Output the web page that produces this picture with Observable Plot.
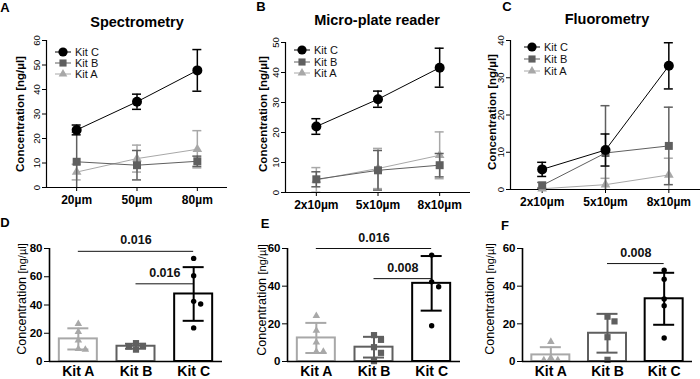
<!DOCTYPE html>
<html><head><meta charset="utf-8">
<script src="https://cdn.jsdelivr.net/npm/d3@7"></script>
<script src="https://cdn.jsdelivr.net/npm/@observablehq/plot@0.6"></script>
<style>
body{margin:0;background:#fff;font-family:"Liberation Sans",Arial,Helvetica,sans-serif;color:#000;}
#fig{position:relative;width:700px;height:379px;overflow:hidden;background:#fff;}
.abs{position:absolute;white-space:nowrap;}
.ctr{transform:translate(-50%,-50%);}
.letter{font-weight:bold;font-size:13px;}
.title{font-weight:bold;font-size:14.5px;}
.rot{transform:translate(-50%,-50%) rotate(-90deg);}
.leg{font-size:11px;line-height:12px;height:12px;color:#111;}
</style></head><body><div id="fig"></div>
<script>
const FONT = '"Liberation Sans", Arial, Helvetica, sans-serif';

// ---------- categories ----------
const kits = ["Kit A", "Kit B", "Kit C"];
const specLabels = ["20µm", "50µm", "80µm"];
const plateLabels = ["2x10µm", "5x10µm", "8x10µm"];
const fluoLabels = ["2x10µm", "5x10µm", "8x10µm"];

// ---------- A: Spectrometry (mean, SD) ----------
const specA = [6.3, 11.8, 15.6];
const specAsd = [3.2, 5.5, 7.6];
const specB = [10.5, 9.1, 10.7];
const specBsd = [12.0, 6.0, 2.1];
const specC = [23.5, 35.0, 47.8];
const specCsd = [2.0, 3.1, 8.5];

// ---------- B: Micro-plate reader ----------
const plateA = [4.2, 8.0, 12.4];
const plateAsd = [4.1, 6.7, 7.8];
const plateB = [4.4, 7.4, 9.1];
const plateBsd = [2.5, 6.6, 3.9];
const plateC = [22.0, 31.1, 41.6];
const plateCsd = [2.6, 2.7, 6.5];

// ---------- C: Fluorometry ----------
const fluoA = [0.2, 1.3, 3.9];
const fluoAsd = [0.3, 1.7, 4.5];
const fluoB = [1.1, 9.8, 11.7];
const fluoBsd = [0.8, 12.7, 10.4];
const fluoC = [5.4, 10.6, 33.2];
const fluoCsd = [1.9, 4.3, 6.2];

// ---------- D ----------
const dMean = [16.0, 10.8, 47.8];
const dSd = [7.5, 1.75, 19.0];
const dPtsA = [26.6, 21.0, 15.0, 9.0, 8.5];
const dPtsB = [13.0, 11.0, 10.6, 8.4];
const dPtsC = [73.0, 60.7, 42.6, 40.7, 23.8];
const dSigFrom = ["Kit A", "Kit B"];
const dSigTo = ["Kit C", "Kit C"];
const dSigY = [78, 55];
const dSigP = ["0.016", "0.016"];

// ---------- E ----------
const eMean = [12.5, 7.6, 41.5];
const eSd = [8.0, 5.5, 14.5];
const ePtsA = [24.3, 16.4, 10.2, 5.3, 5.3];
const ePtsB = [14.0, 11.5, 7.6, 4.6, 0.2];
const ePtsC = [56.5, 42.3, 39.7, 19.0];
const eSigFrom = ["Kit A", "Kit B"];
const eSigTo = ["Kit C", "Kit C"];
const eSigY = [60, 44];
const eSigP = ["0.016", "0.008"];

// ---------- F ----------
const fMean = [3.5, 15.0, 33.3];
const fSd = [4.1, 10.3, 13.8];
const fPtsA = [10.5, 2.0, 0.8, 0.8];
const fPtsB = [23.8, 21.3, 12.9, 0.9];
const fPtsC = [48.5, 43.7, 33.2, 29.6, 12.5];
const fSigFrom = ["Kit B"];
const fSigTo = ["Kit C"];
const fSigY = [52];
const fSigP = ["0.008"];

// ---------- styles ----------
const kitColor = ["#a8a8a8", "#5f5f5f", "#000000"];
const kitSymbol = ["triangle", "square", "circle"];
const topR = [3.6, 4.5, 5];
const botR = [2.8, 3.5, 2.7];

const fig = document.getElementById("fig");

function place(el, left, top) {
  const w = document.createElement("div");
  w.className = "abs";
  w.style.left = left + "px";
  w.style.top = top + "px";
  w.appendChild(el);
  fig.appendChild(w);
}
function text(html, cls, x, y, extraStyle = "") {
  const d = document.createElement("div");
  d.className = "abs " + cls;
  d.style.left = x + "px";
  d.style.top = y + "px";
  if (extraStyle) d.style.cssText += extraStyle;
  d.innerHTML = html;
  fig.appendChild(d);
}

function linePanel(cfg) {
  const {labels, means, sds, yMax, yStep, width, height, ml, mr, mt, mb} = cfg;
  const step = (width - ml - mr) / 3;
  const cap = 4.5 / step;
  const marks = [
    Plot.axisY({ticks: d3.range(0, yMax + 1, yStep), tickSize: 4, tickRotate: -90, fontSize: 9.5, label: null, tickPadding: 3}),
    Plot.axisX({ticks: [0, 1, 2], tickFormat: i => labels[i], tickSize: 4, tickPadding: 4, fontSize: 12, fontWeight: "bold", label: null}),
    Plot.ruleX([-0.5], {stroke: "#000", strokeWidth: 1.2}),
    Plot.ruleY([0], {stroke: "#000", strokeWidth: 1.2})
  ];
  for (const k of [0, 1, 2]) {
    const d = means[k].map((v, i) => ({i, v, lo: v - sds[k][i], hi: v + sds[k][i]}));
    const st = {stroke: kitColor[k], strokeWidth: 1.5, clip: true};
    marks.push(
      Plot.ruleX(d, {x: "i", y1: "lo", y2: "hi", ...st}),
      Plot.ruleY(d, {y: "hi", x1: r => r.i - cap, x2: r => r.i + cap, ...st}),
      Plot.ruleY(d, {y: "lo", x1: r => r.i - cap, x2: r => r.i + cap, ...st}),
      Plot.line(d, {x: "i", y: "v", stroke: kitColor[k], strokeWidth: 1}),
      Plot.dot(d, {x: "i", y: "v", symbol: kitSymbol[k], r: topR[k], fill: kitColor[k], stroke: "none"})
    );
  }
  return Plot.plot({
    width, height, marginLeft: ml, marginRight: mr, marginTop: mt, marginBottom: mb,
    style: {fontFamily: FONT, background: "transparent", overflow: "visible", color: "#000"},
    x: {domain: [-0.5, 2.5]},
    y: {domain: [0, yMax]},
    marks
  });
}

function swarm(vals, pxPerUnit, spacingPx, minDist) {
  const placed = [];
  [...vals].sort((a, b) => b - a).forEach(v => {
    for (const c of [0, 1, -1, 2, -2, 3, -3]) {
      if (placed.every(p => Math.hypot((p.c - c) * spacingPx, (p.v - v) * pxPerUnit) >= minDist)) {
        placed.push({v, c});
        break;
      }
    }
  });
  return placed;
}

function barPanel(cfg) {
  const {means, sds, pts, yMax, sigFrom, sigTo, sigY, sigP, width, height, ml, mr, mt, mb} = cfg;
  const step = (width - ml - mr) / 3;
  const half = 19 / step, cap = 10.5 / step, sp = 7;
  const pxu = (height - mt - mb) / yMax;
  const marks = [
    Plot.axisY({ticks: d3.range(0, yMax + 1, 20), tickSize: 5, tickPadding: 2, fontSize: 11.5, fontWeight: "bold", label: null}),
    Plot.axisX({ticks: [0, 1, 2], tickFormat: i => kits[i], tickSize: 0, tickPadding: 5, fontSize: 14, fontWeight: "bold", label: null}),
  ];
  for (const k of [0, 1, 2]) {
    const b = [{k, m: means[k], lo: means[k] - sds[k], hi: means[k] + sds[k]}];
    const st = {stroke: kitColor[k], strokeWidth: 2, clip: true};
    marks.push(
      Plot.rectY(b, {x1: d => d.k - half, x2: d => d.k + half, y1: 0, y2: "m", fill: "white", stroke: kitColor[k], strokeWidth: 2}),
      Plot.ruleX(b, {x: "k", y1: "lo", y2: "hi", ...st}),
      Plot.ruleY(b, {y: "hi", x1: d => d.k - cap, x2: d => d.k + cap, ...st}),
      Plot.ruleY(b, {y: "lo", x1: d => d.k - cap, x2: d => d.k + cap, ...st})
    );
    const sw = swarm(pts[k], pxu, sp, 6).map(p => ({x: k + p.c * sp / step, v: p.v}));
    marks.push(Plot.dot(sw, {x: "x", y: "v", symbol: kitSymbol[k], r: botR[k], fill: kitColor[k], stroke: "none"}));
  }
  const sig = sigP.map((p, j) => ({a: kits.indexOf(sigFrom[j]), b: kits.indexOf(sigTo[j]), y: sigY[j], p}));
  marks.push(
    Plot.ruleY(sig, {y: "y", x1: "a", x2: "b", stroke: "#111", strokeWidth: 1}),
    Plot.text(sig, {x: d => (d.a + d.b) / 2, y: "y", text: "p", dy: -11, fontSize: 12.5, fontWeight: "bold", fill: "#111"}),
    Plot.ruleX([-0.5], {stroke: "#000", strokeWidth: 1.6}),
    Plot.ruleY([0], {stroke: "#000", strokeWidth: 1.6})
  );
  return Plot.plot({
    width, height, marginLeft: ml, marginRight: mr, marginTop: mt, marginBottom: mb,
    style: {fontFamily: FONT, background: "transparent", overflow: "visible", color: "#000"},
    x: {domain: [-0.5, 2.5]},
    y: {domain: [0, yMax]},
    marks
  });
}

function legend(x, y, gap) {
  [2, 1, 0].forEach((k, j) => {
    const size = Math.PI * topR[k] * topR[k] * (k === 2 ? 0.85 : 0.8);
    const type = k === 0 ? d3.symbolTriangle : k === 1 ? d3.symbolSquare : d3.symbolCircle;
    const path = d3.symbol(type, size)();
    const row = document.createElement("div");
    row.className = "abs leg";
    row.style.left = (x - 9) + "px";
    row.style.top = (y + j * gap - 6) + "px";
    row.innerHTML = `<svg width="18" height="12" style="vertical-align:top"><line x1="1" x2="17" y1="6" y2="6" stroke="${kitColor[k]}" stroke-width="1"/><path transform="translate(9,6)" d="${path}" fill="${kitColor[k]}"/></svg><span style="margin-left:3px;vertical-align:top">${kits[k]}</span>`;
    fig.appendChild(row);
  });
}

// ---------- top row ----------
place(linePanel({labels: specLabels, means: [specA, specB, specC], sds: [specAsd, specBsd, specCsd],
  yMax: 60, yStep: 10, width: 232, height: 185, ml: 46, mr: 5, mt: 10, mb: 28}), 0, 30);
place(linePanel({labels: plateLabels, means: [plateA, plateB, plateC], sds: [plateAsd, plateBsd, plateCsd],
  yMax: 50, yStep: 10, width: 240, height: 185, ml: 53, mr: 2, mt: 12, mb: 23}), 232, 30);
place(linePanel({labels: fluoLabels, means: [fluoA, fluoB, fluoC], sds: [fluoAsd, fluoBsd, fluoCsd],
  yMax: 40, yStep: 10, width: 235, height: 185, ml: 45, mr: 0, mt: 10, mb: 26}), 465, 30);

// ---------- bottom row ----------
place(barPanel({means: dMean, sds: dSd, pts: [dPtsA, dPtsB, dPtsC], yMax: 80,
  sigFrom: dSigFrom, sigTo: dSigTo, sigY: dSigY, sigP: dSigP,
  width: 230, height: 154, ml: 49, mr: 8, mt: 23, mb: 18}), 0, 225);
place(barPanel({means: eMean, sds: eSd, pts: [ePtsA, ePtsB, ePtsC], yMax: 60,
  sigFrom: eSigFrom, sigTo: eSigTo, sigY: eSigY, sigP: eSigP,
  width: 232, height: 154, ml: 57, mr: 2, mt: 23, mb: 18}), 230, 225);
place(barPanel({means: fMean, sds: fSd, pts: [fPtsA, fPtsB, fPtsC], yMax: 60,
  sigFrom: fSigFrom, sigTo: fSigTo, sigY: fSigY, sigP: fSigP,
  width: 235, height: 154, ml: 57, mr: 8, mt: 23, mb: 18}), 465, 225);

// ---------- legends ----------
legend(63, 52, 11);
legend(302, 50, 11.6);
legend(532, 47, 12);

// ---------- titles, letters, axis labels ----------
text("Spectrometry", "title ctr", 137, 22);
text("Micro-plate reader", "title ctr", 377, 20);
text("Fluorometry", "title ctr", 607, 19);

text("A", "letter ctr", 5, 7);
text("B", "letter ctr", 261, 6);
text("C", "letter ctr", 507, 6);
text("D", "letter ctr", 5, 222);
text("E", "letter ctr", 265, 223);
text("F", "letter ctr", 505, 225);

const topLab = "Concentration [ng/µl]";
text(topLab, "rot", 20, 114, "font-weight:bold;font-size:11.5px;");
text(topLab, "rot", 263, 114, "font-weight:bold;font-size:11.5px;");
text(topLab, "rot", 492, 112, "font-weight:bold;font-size:11.5px;");
const botLab = 'Concentration <span style="font-size:11px">[ng/µl]</span>';
text(botLab, "rot", 22, 299, "font-size:12.5px;");
text(botLab, "rot", 262, 300, "font-size:12.5px;");
text(botLab, "rot", 490, 299, "font-size:12.5px;");
</script></body></html>
